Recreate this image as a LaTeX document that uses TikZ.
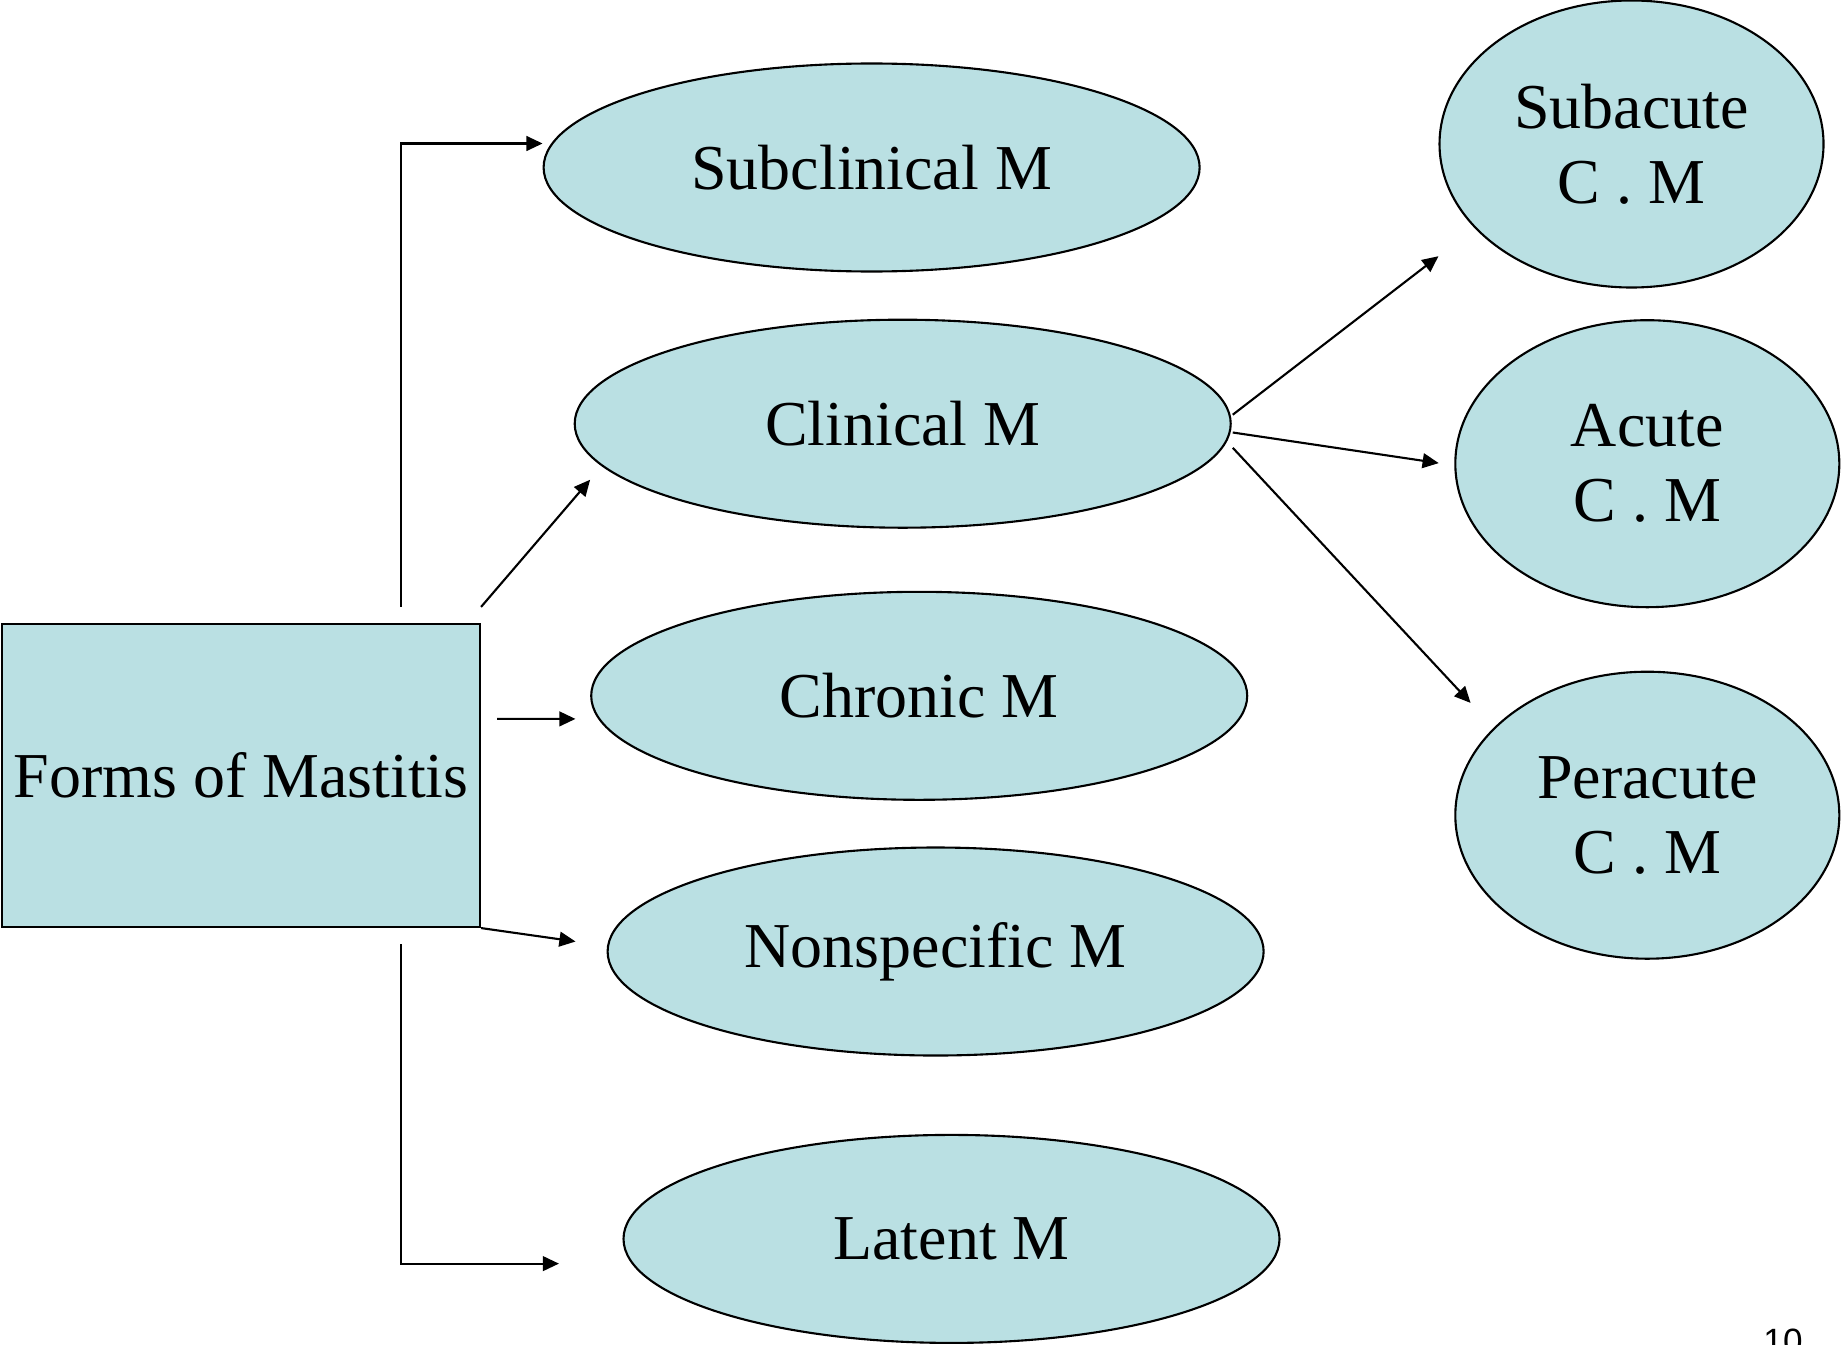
\documentclass[tikz,border=0pt]{standalone}
\usepackage{fontspec}
\setmainfont{Liberation Serif}
\newfontfamily\pagenumfont{Liberation Sans}
\usetikzlibrary{calc,shapes.geometric,arrows.meta}
\definecolor{mastfill}{RGB}{186,224,227}
\tikzset{
	oval/.style={ellipse, draw, fill=mastfill, line width=0.6pt, inner sep=0pt,
		minimum width=6.56cm, minimum height=2.08cm, font=\fontsize{18.2}{21.3}\selectfont},
	roundoval/.style={oval, minimum width=3.84cm, minimum height=2.87cm, align=center},
	conn/.style={line width=0.6pt, -{Triangle[length=4.6pt,width=4.2pt]}}
}

\begin{document}
\begin{tikzpicture}
	%%%%% START %%%%%
	
	\useasboundingbox (0,0) rectangle (18.43,13.44);
	
	\node[draw, fill=mastfill, line width=0.6pt, inner sep=0pt, minimum width=4.78cm, minimum height=3.03cm,
		font=\fontsize{18.2}{21.3}\selectfont] (forms) at (2.41,5.685) {Forms of Mastitis};
	
	\node[oval] (sub) at (8.716,11.765) {Subclinical M};
	\node[oval] (clin) at (9.027,9.203) {Clinical M};
	\node[oval] (chron) at (9.192,6.482) {Chronic M};
	\node[oval] (nonspec) at (9.356,3.925) {Nonspecific M};
	\node[oval] (latent) at (9.515,1.051) {Latent M};
	
	\node[roundoval] (subac) at (16.315,12.0) {Subacute\\C . M};
	\node[roundoval] (acute) at (16.473,8.803) {Acute\\C . M};
	\node[roundoval] (perac) at (16.473,5.288) {Peracute\\C . M};
	
	% from the box
	\draw[conn] ($(forms.north east)+(-0.80,0.16)$) |- ($(sub.west)+(0,0.24)$);
	\draw[conn] ($(forms.north east)+(0,0.16)$) -- ($(clin.west)+(0.165,-0.56)$);
	\draw[conn] ($(forms.east)+(0.16,0.566)$) -- ($(chron.west)+(-0.147,-0.231)$);
	\draw[conn] (forms.south east) -- ($(nonspec.west)+(-0.31,0.10)$);
	\draw[conn] ($(forms.south east)+(-0.80,-0.164)$) |- ($(latent.west)+(-0.635,-0.247)$);
	
	% from clinical
	\draw[conn] ($(clin.east)+(0.01,0.09)$) -- ($(subac.west)+(0,-1.122)$);
	\draw[conn] ($(clin.east)+(0.01,-0.088)$) -- ($(acute.west)+(-0.155,0.006)$);
	\draw[conn] ($(clin.east)+(0.01,-0.241)$) -- ($(perac.west)+(0.163,1.123)$);
	
	\node[font=\pagenumfont\fontsize{10}{12}\selectfont, anchor=north, inner sep=0pt] (pagenum) at (17.83,0.16) {10};
	
	%%%%% END %%%%%
\end{tikzpicture}
\end{document}
